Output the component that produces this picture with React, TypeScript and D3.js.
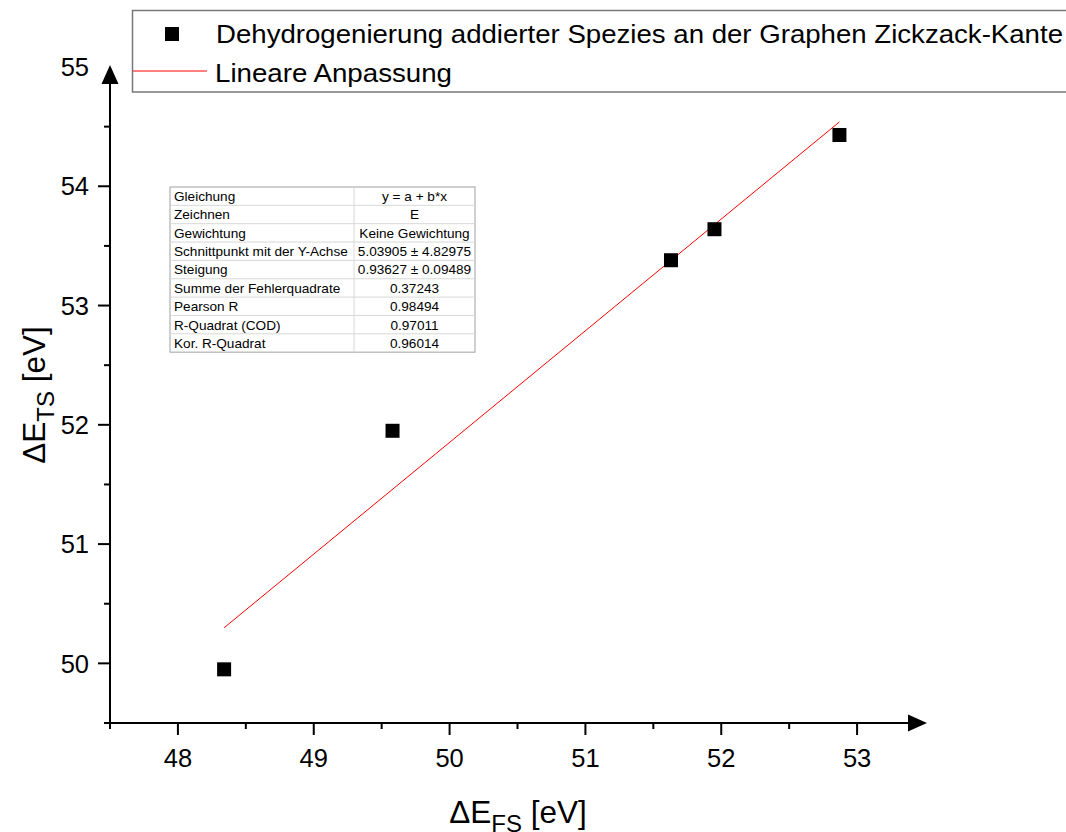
import React from "react";
import * as d3 from "d3";

const xValues = [48.34, 49.58, 51.63, 51.95, 52.87];
const yValues = [49.95, 51.95, 53.38, 53.64, 54.43];
const fitA = 5.03905;
const fitB = 0.93627;
const xTicks = [48, 49, 50, 51, 52, 53];
const xMinorTicks = [47.5, 48.5, 49.5, 50.5, 51.5, 52.5];
const yTicks = [50, 51, 52, 53, 54];
const yMinorTicks = [49.5, 50.5, 51.5, 52.5, 53.5, 54.5];
const yLabelOnly = [55];
const seriesName = "Dehydrogenierung addierter Spezies an der Graphen Zickzack-Kante";
const fitName = "Lineare Anpassung";
const tableLabels = [
  "Gleichung",
  "Zeichnen",
  "Gewichtung",
  "Schnittpunkt mit der Y-Achse",
  "Steigung",
  "Summe der Fehlerquadrate",
  "Pearson R",
  "R-Quadrat (COD)",
  "Kor. R-Quadrat",
];
const tableValues = [
  "y = a + b*x",
  "E",
  "Keine Gewichtung",
  "5.03905 ± 4.82975",
  "0.93627 ± 0.09489",
  "0.37243",
  "0.98494",
  "0.97011",
  "0.96014",
];

const FONT = "'Liberation Sans', Arial, sans-serif";

export default function App() {
  const W = 1066;
  const H = 832;
  const x = d3.scaleLinear().domain([47.5, 53.5]).range([110, 925]);
  const y = d3.scaleLinear().domain([49.5, 55]).range([723, 67]);
  const axisX0 = 110;
  const axisY0 = 723;
  const xArrowTip = 927;
  const yArrowTip = 65;

  const [xmin, xmax] = d3.extent(xValues) as [number, number];
  const fitLine = d3
    .line<number>()
    .x((d) => x(d))
    .y((d) => y(fitA + fitB * d));

  const sq = 14;

  // table geometry
  const tX = 170;
  const tY = 187;
  const tW = 305;
  const rowH = 18.35;
  const colX = 354;
  const tH = rowH * tableLabels.length;

  return (
    <svg
      width={W}
      height={H}
      style={{ position: "absolute", left: 0, top: 0, background: "#fff" }}
      fontFamily={FONT}
    >
      <rect x={0} y={0} width={W} height={H} fill="#fff" />

      {/* table */}
      <g>
        <rect x={tX} y={tY} width={tW} height={tH} fill="#fff" stroke="#a0a0a0" strokeWidth={1} />
        {tableLabels.slice(1).map((_, i) => (
          <line
            key={"r" + i}
            x1={tX}
            x2={tX + tW}
            y1={tY + rowH * (i + 1)}
            y2={tY + rowH * (i + 1)}
            stroke="#d8d8d8"
            strokeWidth={1}
          />
        ))}
        <line x1={colX} x2={colX} y1={tY} y2={tY + tH} stroke="#d8d8d8" strokeWidth={1} />
        {tableLabels.map((t, i) => (
          <text
            key={"l" + i}
            x={tX + 4}
            y={tY + rowH * i + rowH / 2}
            dy="0.36em"
            fontSize={13.6}
            fill="#000"
          >
            {t}
          </text>
        ))}
        {tableValues.map((t, i) => (
          <text
            key={"v" + i}
            x={(colX + tX + tW) / 2}
            y={tY + rowH * i + rowH / 2}
            dy="0.36em"
            fontSize={13.6}
            textAnchor="middle"
            fill="#000"
          >
            {t}
          </text>
        ))}
      </g>

      {/* axes */}
      <g stroke="#000" strokeWidth={2}>
        <line x1={axisX0 - 4} x2={xArrowTip - 12} y1={axisY0} y2={axisY0} />
        <line x1={axisX0} x2={axisX0} y1={axisY0 + 1} y2={yArrowTip + 12} />
        {xTicks.map((t) => (
          <line key={"xt" + t} x1={x(t)} x2={x(t)} y1={axisY0} y2={axisY0 + 12} />
        ))}
        {xMinorTicks.map((t) => (
          <line key={"xm" + t} x1={x(t)} x2={x(t)} y1={axisY0} y2={axisY0 + 6} />
        ))}
        {yTicks.map((t) => (
          <line key={"yt" + t} x1={axisX0 - 12} x2={axisX0} y1={y(t)} y2={y(t)} />
        ))}
        {yMinorTicks.map((t) => (
          <line key={"ym" + t} x1={axisX0 - 6} x2={axisX0} y1={y(t)} y2={y(t)} />
        ))}
      </g>
      <path
        d={`M${xArrowTip},${axisY0} L${xArrowTip - 19},${axisY0 - 8.5} L${xArrowTip - 19},${axisY0 + 8.5} Z`}
        fill="#000"
      />
      <path
        d={`M${axisX0},${yArrowTip} L${axisX0 - 8.5},${yArrowTip + 19} L${axisX0 + 8.5},${yArrowTip + 19} Z`}
        fill="#000"
      />

      {/* tick labels */}
      {xTicks.map((t) => (
        <text key={"xl" + t} x={x(t)} y={767} fontSize={25.5} textAnchor="middle" fill="#000">
          {t}
        </text>
      ))}
      {yTicks.concat(yLabelOnly).map((t) => (
        <text key={"yl" + t} x={89} y={y(t)} dy="0.36em" fontSize={25.5} textAnchor="end" fill="#000">
          {t}
        </text>
      ))}

      {/* axis titles */}
      <text x={518} y={823} fontSize={31.5} textAnchor="middle" fill="#000">
        ΔE
        <tspan fontSize={24} dy={9}>
          FS
        </tspan>
        <tspan dy={-9}> [eV]</tspan>
      </text>
      <text
        transform={`translate(45,395) rotate(-90)`}
        fontSize={31.5}
        textAnchor="middle"
        fill="#000"
      >
        ΔE
        <tspan fontSize={24} dy={9}>
          TS
        </tspan>
        <tspan dy={-9}> [eV]</tspan>
      </text>

      {/* fit line */}
      <path d={fitLine([xmin, xmax]) || ""} fill="none" stroke="#ff0000" strokeWidth={1} />

      {/* points */}
      {xValues.map((xv, i) => (
        <rect
          key={"p" + i}
          x={x(xv) - sq / 2}
          y={y(yValues[i]) - sq / 2}
          width={sq}
          height={sq}
          fill="#000"
        />
      ))}

      {/* legend */}
      <rect x={132.5} y={10.5} width={1000} height={81.5} fill="#fff" stroke="#777" strokeWidth={1.5} />
      <rect x={165} y={27} width={14} height={14} fill="#000" />
      <text
        x={216}
        y={43}
        fontSize={26.5}
        fill="#000"
        textLength={847}
        lengthAdjust="spacingAndGlyphs"
      >
        {seriesName}
      </text>
      <line x1={133} x2={207} y1={71} y2={71} stroke="#ff0000" strokeWidth={1} />
      <text
        x={215}
        y={82}
        fontSize={26.5}
        fill="#000"
        textLength={237}
        lengthAdjust="spacingAndGlyphs"
      >
        {fitName}
      </text>
    </svg>
  );
}
